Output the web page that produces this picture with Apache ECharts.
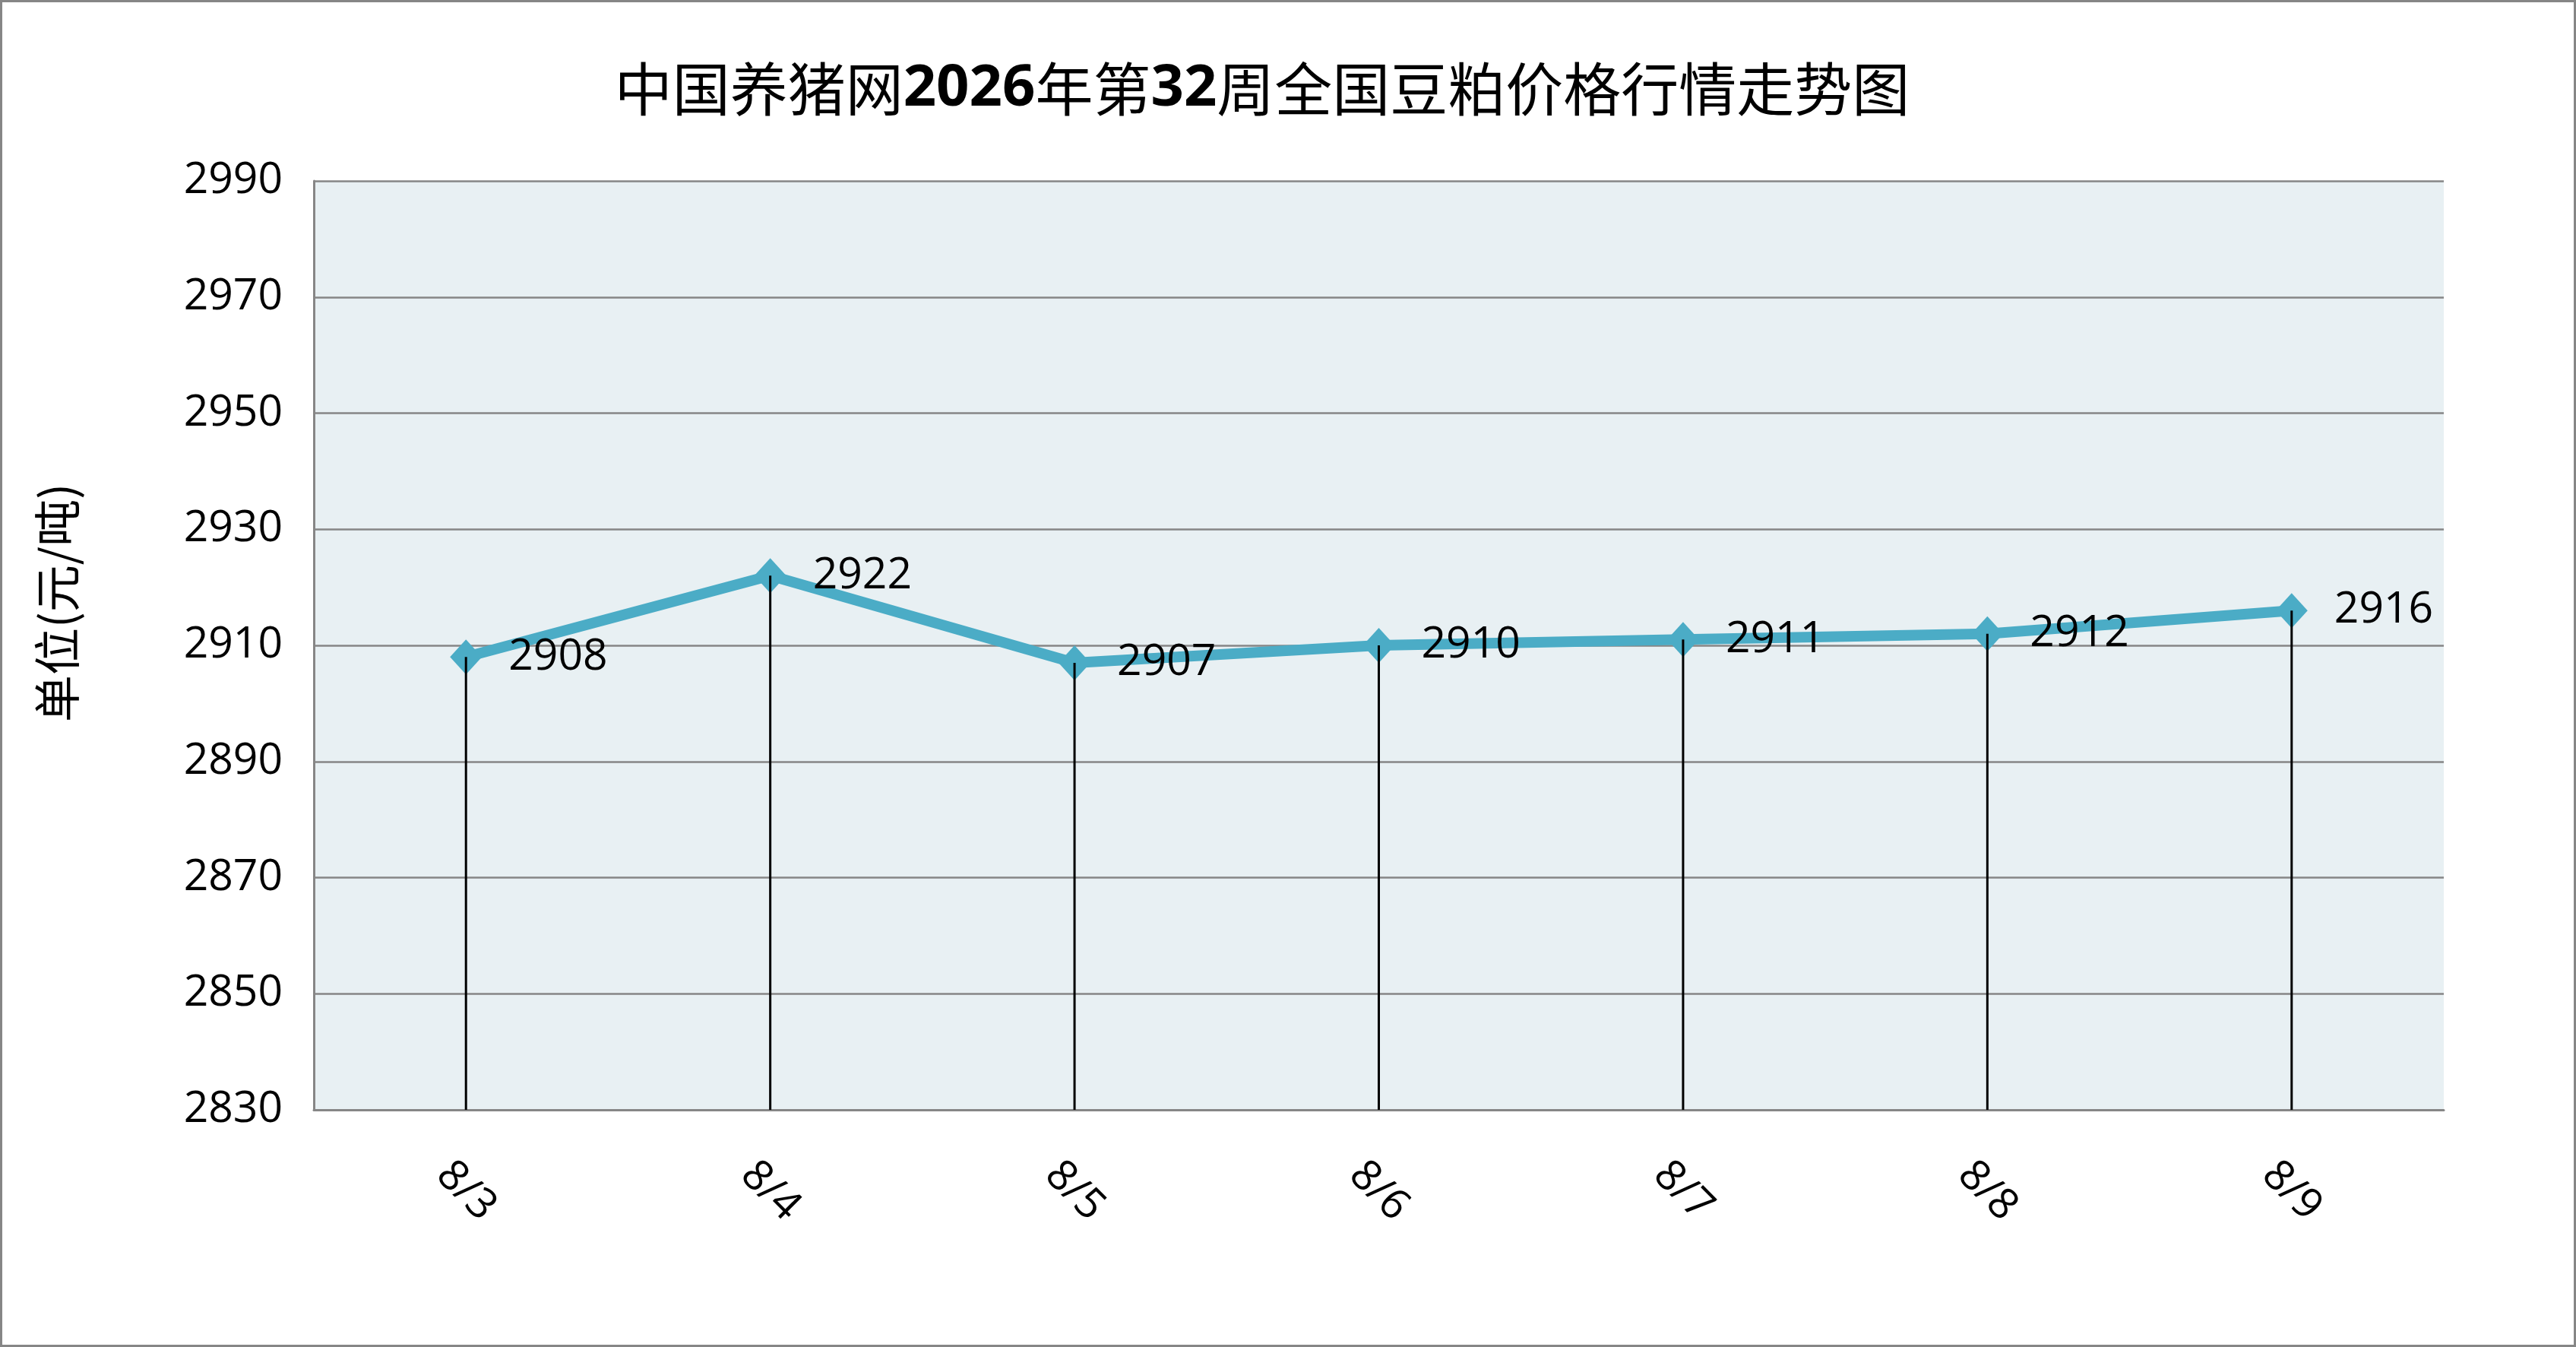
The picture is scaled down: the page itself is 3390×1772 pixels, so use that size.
<!DOCTYPE html>
<html>
<head>
<meta charset="utf-8">
<script src="https://cdn.jsdelivr.net/npm/echarts@6/dist/echarts.min.js"></script>
<style>
  html, body { margin: 0; padding: 0; background: #fff; }
  #box { width: 3390px; height: 1772px; }
</style>
</head>
<body>
<div id="box"></div>
<script>
// 日期
var days = ['8/3', '8/4', '8/5', '8/6', '8/7', '8/8', '8/9'];
// 豆粕价格 元/吨
var prices = [2908, 2922, 2907, 2910, 2911, 2912, 2916];
var yMin = 2830, yMax = 2990, yStep = 20;
var yName = '单位(元/吨)';

var numFont = '"Open Sans", "Noto Sans", sans-serif';
var cjkFont = '"Noto Sans CJK SC", sans-serif';

var chart = echarts.init(document.getElementById('box'));
var option = {
  backgroundColor: '#fff',
  animation: false,
  title: {
    text: '{a|中国养猪网}{b|2026}{a|年第}{b|32}{a|周全国豆粕价格行情走势图}',
    left: 1656,
    textAlign: 'center',
    top: 74,
    textStyle: {
      fontWeight: 'normal',
      rich: {
        a: { fontFamily: cjkFont, fontSize: 76, fontWeight: 'normal', color: '#000' },
        b: { fontFamily: numFont, fontSize: 76, fontWeight: 'bold', color: '#000' }
      }
    }
  },
  grid: {
    left: 413,
    right: 174,
    top: 238,
    bottom: 312,
    show: true,
    backgroundColor: '#e8f0f3',
    borderWidth: 0
  },
  xAxis: {
    type: 'category',
    data: days,
    boundaryGap: true,
    axisLine: { lineStyle: { color: '#868686', width: 3 } },
    axisTick: { inside: true, length: 25, lineStyle: { color: '#868686', width: 2 } },
    axisLabel: {
      rotate: -45,
      align: 'center',
      verticalAlign: 'middle',
      margin: 107,
      fontFamily: numFont,
      fontSize: 56,
      color: '#000'
    },
    splitLine: { show: false }
  },
  yAxis: {
    type: 'value',
    min: yMin,
    max: yMax,
    interval: yStep,
    axisLine: { show: true, lineStyle: { color: '#868686', width: 3 } },
    axisTick: { show: false },
    axisLabel: {
      margin: 41,
      fontFamily: numFont,
      fontSize: 57,
      color: '#000',
      formatter: function (v) { return String(v); }
    },
    splitLine: { lineStyle: { color: '#868686', width: 2.5 } }
  },
  series: [{
    name: '豆粕',
    type: 'line',
    data: prices,
    symbol: 'diamond',
    symbolSize: [42, 46],
    lineStyle: { color: '#4bacc6', width: 14 },
    itemStyle: { color: '#4bacc6' },
    label: {
      show: true,
      position: 'right',
      distance: 35,
      fontFamily: numFont,
      fontSize: 57,
      color: '#000'
    },
    z: 2
  }, {
    // 垂直线
    name: 'drop',
    type: 'bar',
    data: prices,
    barWidth: 3,
    itemStyle: { color: '#000' },
    z: 3,
    silent: true
  }],
  graphic: [{
    type: 'rect',
    shape: { x: 1.5, y: 1.5, width: 3387, height: 1769 },
    style: { fill: 'none', stroke: '#868686', lineWidth: 3 },
    silent: true
  }, {
    type: 'text',
    x: 75,
    y: 793,
    rotation: Math.PI / 2,
    style: {
      text: yName,
      font: '62px "Noto Sans CJK SC", sans-serif',
      fill: '#000',
      align: 'center',
      verticalAlign: 'middle'
    },
    silent: true
  }]
};
chart.setOption(option);
</script>
</body>
</html>
